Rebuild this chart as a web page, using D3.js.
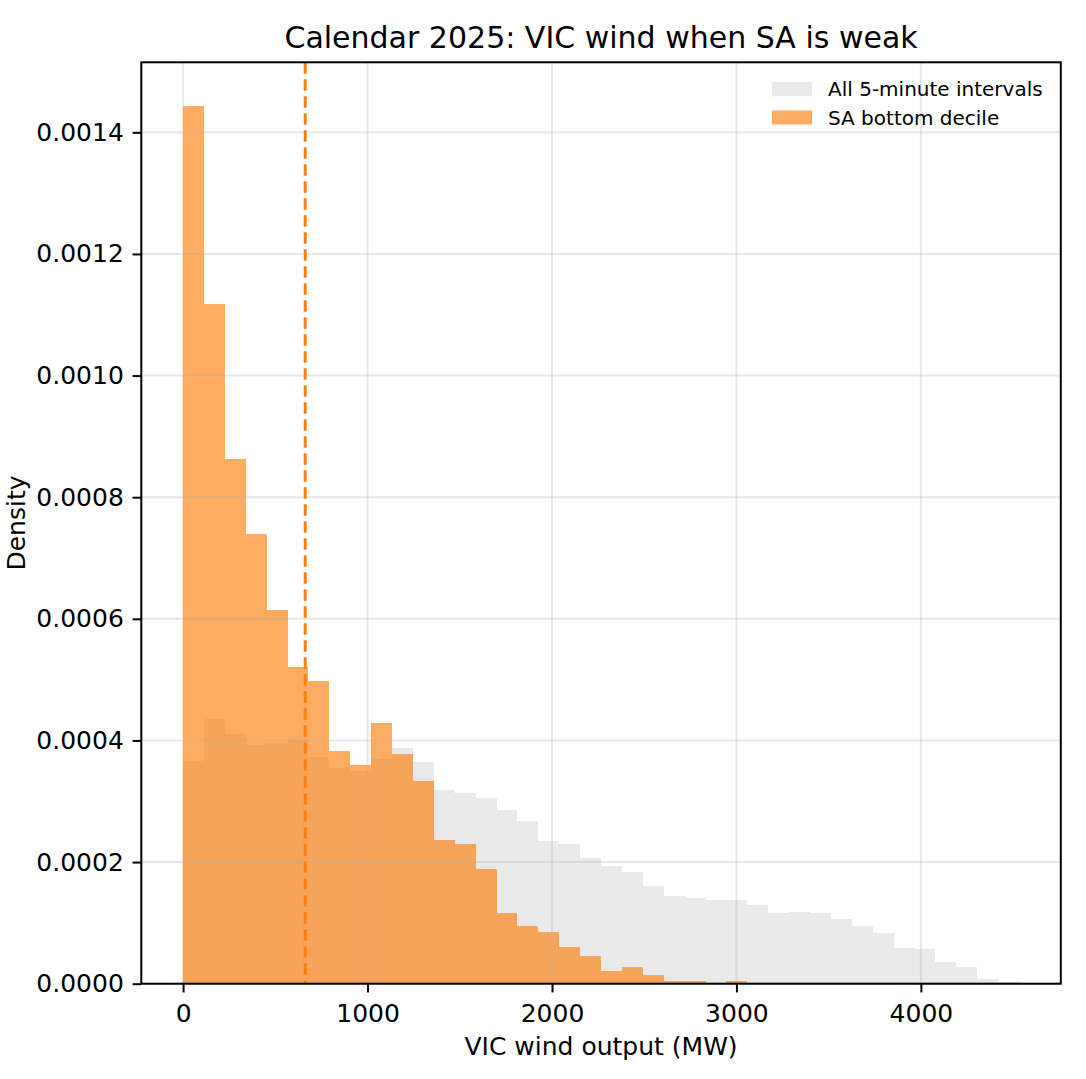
<!DOCTYPE html>
<html>
<head>
<meta charset="utf-8">
<script src="https://cdn.jsdelivr.net/npm/d3@7"></script>
<style>
  html, body { margin: 0; padding: 0; background: #fff; }
  svg text { font-family: "DejaVu Sans", sans-serif; fill: #000; }
</style>
</head>
<body>
<div class="svg-div"></div>
<script>
// histogram bins (MW), shared by both series
const binStart = 0;
const binWidth = 113.3;

// density per bin, all 5-minute intervals
const allDensity = [
  0.000367, 0.000436, 0.000411, 0.000393, 0.000396, 0.000401, 0.000373, 0.000355,
  0.000349, 0.000370, 0.000388, 0.000365, 0.000318, 0.000313, 0.000306, 0.000285,
  0.000267, 0.000234, 0.000230, 0.000207, 0.000194, 0.000183, 0.000161, 0.000145,
  0.000141, 0.000137, 0.000138, 0.000130, 0.000117, 0.000118, 0.000117, 0.000107,
  0.0000954, 0.0000839, 0.0000592, 0.0000576, 0.0000362, 0.0000280, 0.0000082, 0.0000033
];

// density per bin, intervals where SA wind is in its bottom decile
const saDensity = [
  0.001443, 0.001117, 0.000862, 0.000740, 0.000615, 0.000520, 0.000498, 0.000383,
  0.000360, 0.000428, 0.000378, 0.000334, 0.000237, 0.000230, 0.000188, 0.000117,
  0.0000954, 0.0000855, 0.0000609, 0.0000461, 0.0000214, 0.0000280, 0.0000148, 0.0000049,
  0.0000049, 0, 0.0000049, 0, 0, 0, 0, 0,
  0, 0, 0, 0, 0, 0, 0, 0
];

const saMedian = 662;

const xTicks = [0, 1000, 2000, 3000, 4000];
const yTicks = [0, 0.0002, 0.0004, 0.0006, 0.0008, 0.0010, 0.0012, 0.0014];

const seriesNames = ["All 5-minute intervals", "SA bottom decile"];

const svgWidth = 1086, svgHeight = 1079;
const margin = {left: 141.3, top: 62.3, right: 25.2, bottom: 95.3};
const width = svgWidth - margin.left - margin.right;
const height = svgHeight - margin.top - margin.bottom;

const grayFill = "#d3d3d3", grayAlpha = 0.5;
const orange = "#ff7f0e", orangeAlpha = 0.65;

const nBins = allDensity.length;
const binLo = i => binStart + i * binWidth;
const xMax = binLo(nBins);
const pad = (xMax - binStart) * 0.05;
const yMax = d3.max(saDensity.concat(allDensity)) * 1.05;

const svg = d3.select(".svg-div").append("svg")
  .attr("width", svgWidth)
  .attr("height", svgHeight);

const x = d3.scaleLinear()
  .domain([binStart - pad, xMax + pad])
  .range([0, width]);

const y = d3.scaleLinear()
  .domain([0, yMax])
  .range([height, 0]);

const g = svg.append("g")
  .attr("transform", "translate(" + margin.left + "," + margin.top + ")");

function drawBars(data, fill, alpha, cls) {
  g.selectAll("." + cls)
    .data(data)
    .enter()
    .append("rect")
    .attr("class", cls)
    .attr("x", (d, i) => x(binLo(i)))
    .attr("width", (d, i) => x(binLo(i + 1)) - x(binLo(i)))
    .attr("y", d => y(d))
    .attr("height", d => height - y(d))
    .attr("fill", fill)
    .attr("fill-opacity", alpha)
    .attr("shape-rendering", "crispEdges");
}

drawBars(allDensity, grayFill, grayAlpha, "bar-all");
drawBars(saDensity, orange, orangeAlpha, "bar-sa");

// grid sits above the bars, like matplotlib's default
const grid = g.append("g").attr("class", "grid");
grid.selectAll(".vgrid")
  .data(xTicks)
  .enter().append("line")
  .attr("x1", d => x(d)).attr("x2", d => x(d))
  .attr("y1", 0).attr("y2", height)
  .attr("stroke", "#b0b0b0").attr("stroke-opacity", 0.3).attr("stroke-width", 2);
grid.selectAll(".hgrid")
  .data(yTicks)
  .enter().append("line")
  .attr("x1", 0).attr("x2", width)
  .attr("y1", d => y(d)).attr("y2", d => y(d))
  .attr("stroke", "#b0b0b0").attr("stroke-opacity", 0.3).attr("stroke-width", 2);

// median of the SA bottom decile series
g.append("line")
  .attr("x1", x(saMedian)).attr("x2", x(saMedian))
  .attr("y1", 0).attr("y2", height)
  .attr("stroke", orange)
  .attr("stroke-width", 3)
  .attr("stroke-dasharray", "11.5,5.5");

// axes
const xAxis = g.append("g")
  .attr("class", "x axis")
  .attr("transform", "translate(0," + height + ")")
  .call(d3.axisBottom(x).tickValues(xTicks).tickFormat(d3.format("d"))
    .tickSize(8.75).tickPadding(8.75));

const yAxis = g.append("g")
  .attr("class", "y axis")
  .call(d3.axisLeft(y).tickValues(yTicks).tickFormat(d3.format(".4f"))
    .tickSize(8.75).tickPadding(8.75));

[xAxis, yAxis].forEach(a => {
  a.select(".domain").remove();
  a.selectAll(".tick line").attr("stroke", "#000").attr("stroke-width", 2);
  a.selectAll(".tick text")
    .style("font-family", "DejaVu Sans")
    .style("font-size", "25px")
    .attr("fill", "#000");
});
xAxis.selectAll(".tick text").attr("dy", "0.83em");

// frame
g.append("rect")
  .attr("x", 0).attr("y", 0)
  .attr("width", width).attr("height", height)
  .attr("fill", "none")
  .attr("stroke", "#000")
  .attr("stroke-width", 2);

// title and labels
svg.append("text")
  .attr("x", margin.left + width / 2)
  .attr("y", 48)
  .attr("text-anchor", "middle")
  .style("font-size", "30px")
  .text("Calendar 2025: VIC wind when SA is weak");

svg.append("text")
  .attr("x", margin.left + width / 2)
  .attr("y", 1055)
  .attr("text-anchor", "middle")
  .style("font-size", "25px")
  .text("VIC wind output (MW)");

svg.append("text")
  .attr("transform", "translate(25," + (margin.top + height / 2) + ") rotate(-90)")
  .attr("text-anchor", "middle")
  .style("font-size", "25px")
  .text("Density");

// legend, no frame
const legend = svg.append("g").attr("class", "legend");
const legendItems = [
  {name: seriesNames[0], fill: grayFill, alpha: grayAlpha},
  {name: seriesNames[1], fill: orange, alpha: orangeAlpha}
];
legendItems.forEach((item, i) => {
  const row = legend.append("g")
    .attr("transform", "translate(772," + (82 + i * 28.5) + ")");
  row.append("rect")
    .attr("width", 40).attr("height", 14)
    .attr("fill", item.fill).attr("fill-opacity", item.alpha);
  row.append("text")
    .attr("x", 56)
    .attr("y", 14)
    .style("font-size", "20px")
    .text(item.name);
});
</script>
</body>
</html>
